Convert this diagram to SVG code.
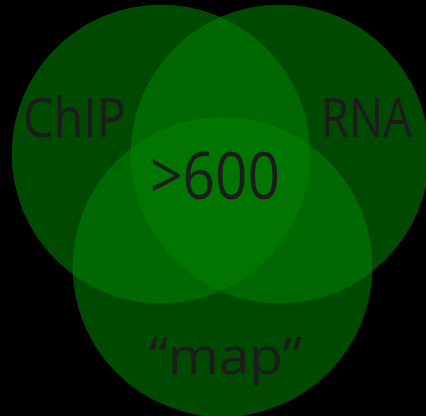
<svg xmlns="http://www.w3.org/2000/svg" width="426" height="416" viewBox="0 0 426 416">
  <style>
    .set { fill: #008000; fill-opacity: 0.57; stroke: #0a8a0a; stroke-opacity: 0.25; stroke-width: 1; }
    .lbl { font-family: "Open Sans", "DejaVu Sans", sans-serif; fill: #1c1c1c; }
  </style>
  <rect x="0" y="0" width="426" height="416" fill="#000000"/>
  <g id="chip">
    <circle class="set" cx="161" cy="154" r="149"/>
    <text class="lbl" x="23" y="137" font-size="54" textLength="103" lengthAdjust="spacingAndGlyphs">ChIP</text>
  </g>
  <g id="rna">
    <circle class="set" cx="280" cy="154" r="149"/>
    <text class="lbl" transform="translate(366.5,137) scale(0.84,1)" text-anchor="middle" font-size="54">RNA</text>
  </g>
  <g id="map">
    <circle class="set" cx="222.5" cy="267" r="149.5"/>
    <text class="lbl" x="149" y="374" font-size="52" textLength="153" lengthAdjust="spacingAndGlyphs">“map”</text>
  </g>
  <g id="overlap">
    <text class="lbl" x="150" y="199" font-size="66" textLength="130" lengthAdjust="spacingAndGlyphs">&gt;600</text>
  </g>
</svg>
